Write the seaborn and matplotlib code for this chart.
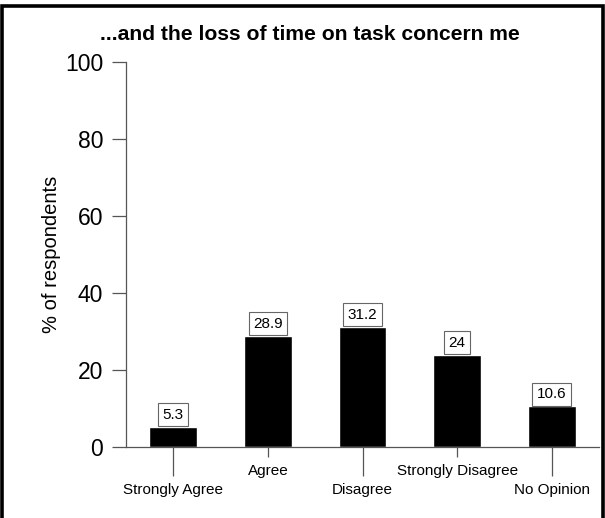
import matplotlib
matplotlib.use("Agg")
import matplotlib.pyplot as plt
from matplotlib.patches import Rectangle
import seaborn as sns

# Survey responses
categories = ["Strongly Agree", "Agree", "Disagree", "Strongly Disagree", "No Opinion"]
values = [5.3, 28.9, 31.2, 24, 10.6]
value_labels = ["5.3", "28.9", "31.2", "24", "10.6"]
y_ticks = [0, 20, 40, 60, 80, 100]

sns.set_theme(style="white")
plt.rcParams["font.family"] = ["Liberation Sans", "DejaVu Sans"]
plt.rcParams["text.color"] = "black"
plt.rcParams["axes.labelcolor"] = "black"
plt.rcParams["xtick.labelcolor"] = "black"
plt.rcParams["ytick.labelcolor"] = "black"

fig = plt.figure(figsize=(6.05, 5.18), dpi=100)
ax = fig.add_axes([126 / 605, 1 - 447 / 518, 473 / 605, 385 / 518])

sns.barplot(x=categories, y=values, color="black", width=0.507,
            saturation=1, ax=ax, order=categories)

ax.set_ylim(0, 100)
ax.set_xlim(-0.5, 4.5)
ax.set_yticks(y_ticks)
ax.set_yticklabels([str(t) for t in y_ticks], fontsize=16.5)
ax.tick_params(axis="y", left=True, length=10, width=0.9, color="#555555",
               labelcolor="black", pad=6.5)
ax.set_ylabel("% of respondents", fontsize=14.5, labelpad=3, color="black")
ax.set_xlabel("")

for side in ["top", "right"]:
    ax.spines[side].set_visible(False)
for side in ["left", "bottom"]:
    ax.spines[side].set_color("#555555")
    ax.spines[side].set_linewidth(0.9)

# staggered category labels: long ticks for 0,2,4 and short ones for 1,3
idx = list(range(len(categories)))
ax.set_xticks(idx[0::2], labels=categories[0::2])
ax.set_xticks(idx[1::2], labels=categories[1::2], minor=True)
ax.tick_params(axis="x", which="major", bottom=True, length=21, width=0.9,
               color="#555555", labelcolor="black", labelsize=11, pad=5)
ax.tick_params(axis="x", which="minor", bottom=True, length=7, width=0.9,
               color="#555555", labelcolor="black", labelsize=11, pad=5)

# value boxes sitting on the bars
for i, (v, s) in enumerate(zip(values, value_labels)):
    ax.annotate(s, xy=(i, v), xytext=(0, 3.6), textcoords="offset points",
                ha="center", va="bottom", fontsize=11, color="black",
                bbox=dict(boxstyle="square,pad=0.3", fc="white",
                          ec="#666666", lw=0.8))

fig.text(310 / 605, 1 - 35 / 518, "...and the loss of time on task concern me",
         ha="center", va="center", fontsize=15.2, fontweight="bold", color="black")

# outer frame
fig.patches.append(Rectangle((2 / 605, -0.05), 601 / 605, 1.05 - 5.5 / 518,
                             transform=fig.transFigure, fill=False,
                             ec="black", lw=2.6, zorder=10))

fig.savefig("out.png", dpi=100)
